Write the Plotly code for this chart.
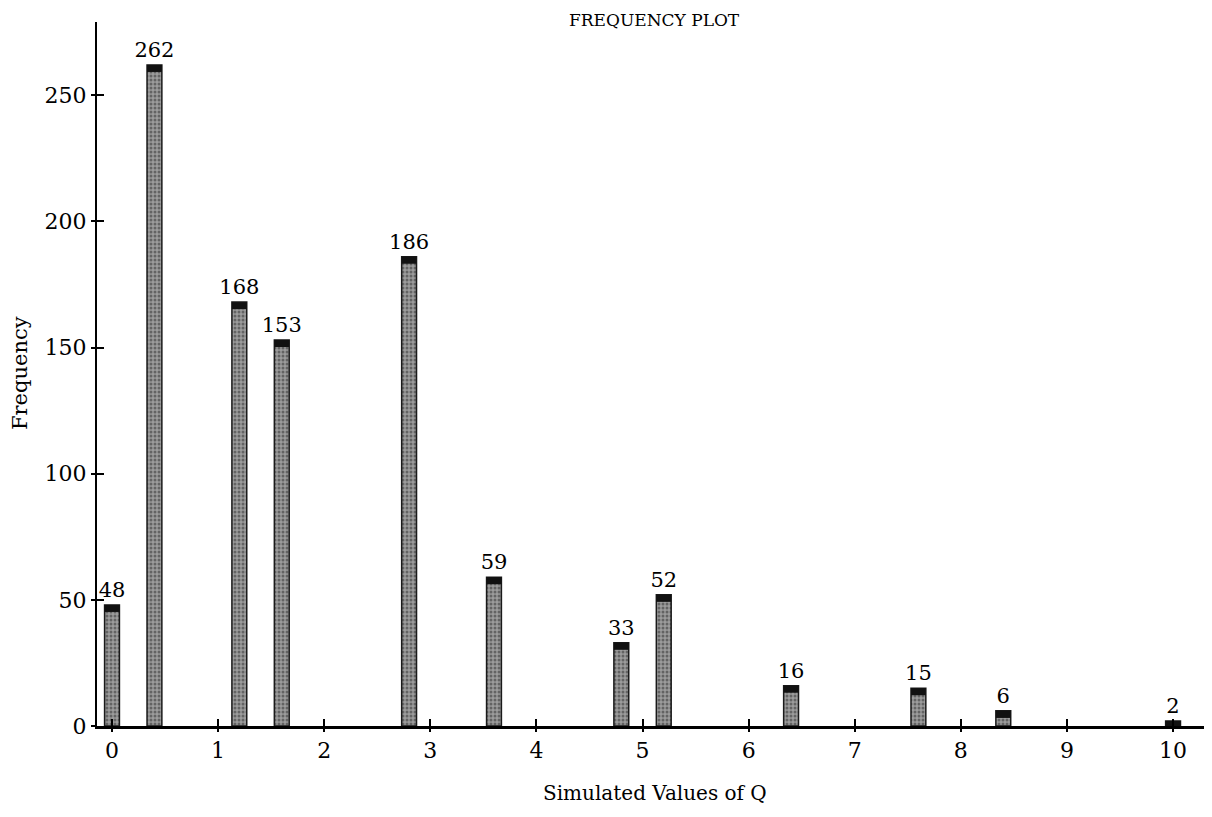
import plotly.graph_objects as go

q_values = [0, 0.4, 1.2, 1.6, 2.8, 3.6, 4.8, 5.2, 6.4, 7.6, 8.4, 10]
frequencies = [48, 262, 168, 153, 186, 59, 33, 52, 16, 15, 6, 2]
x_ticks = [0, 1, 2, 3, 4, 5, 6, 7, 8, 9, 10]
y_ticks = [0, 50, 100, 150, 200, 250]

cap_h = 2.8
cap_base = [max(v - cap_h, 0) for v in frequencies]
cap_len = [v - b for v, b in zip(frequencies, cap_base)]

font_family = "DejaVu Serif, Liberation Serif, serif"

W, H = 1204, 809   # page body has an 8px margin
L, T, B = 89, 14, 91

fig = go.Figure()
fig.add_trace(go.Bar(
    x=q_values, y=frequencies, width=0.14,
    marker=dict(color="#8a8a8a",
                line=dict(color="#1a1a1a", width=1.5),
                pattern=dict(shape=".", fgcolor="#2a2a2a", bgcolor="#9c9c9c",
                             size=4, solidity=0.45)),
    text=[str(v) for v in frequencies], textposition="outside",
    constraintext="none",
    textfont=dict(family=font_family, size=21, color="black"),
    cliponaxis=False, showlegend=False,
))
fig.add_trace(go.Bar(
    x=q_values, y=cap_len, base=cap_base, width=0.14,
    marker=dict(color="#111111", line=dict(width=0)),
    showlegend=False, hoverinfo="skip",
))

fig.update_layout(
    width=W, height=H,
    margin=dict(l=L, r=0, t=T, b=B, pad=0),
    paper_bgcolor="white", plot_bgcolor="white",
    barmode="overlay",
    font=dict(family=font_family, color="black"),
    xaxis=dict(range=[-0.1414, 10.367], tickvals=x_ticks,
               ticktext=[str(t) for t in x_ticks],
               showgrid=False, zeroline=False,
               showline=True, linecolor="black", linewidth=2.5,
               ticks="outside", ticklen=3, tickwidth=1.5, tickcolor="black",
               tickfont=dict(family=font_family, size=22, color="black")),
    yaxis=dict(range=[0, 279], tickvals=y_ticks,
               ticktext=[str(t) for t in y_ticks],
               showgrid=False, zeroline=False,
               showline=True, linecolor="black", linewidth=2,
               ticks="outside", ticklen=4, tickwidth=1.5, tickcolor="black",
               tickfont=dict(family=font_family, size=22, color="black")),
    xaxis2=dict(range=[-0.1414, 10.367], tickvals=x_ticks, overlaying="x",
                showticklabels=False, showgrid=False, zeroline=False,
                ticks="inside", ticklen=7, tickwidth=1.5, tickcolor="black",
                side="bottom"),
    yaxis2=dict(range=[0, 279], tickvals=y_ticks, overlaying="y",
                showticklabels=False, showgrid=False, zeroline=False,
                ticks="inside", ticklen=7, tickwidth=1.5, tickcolor="black",
                side="left"),
    annotations=[
        dict(text="FREQUENCY PLOT", xref="paper", yref="paper",
             x=0.5, y=1 + (T - 12) / 704,
             xanchor="center", yanchor="middle", showarrow=False,
             font=dict(family=font_family, size=17, color="black")),
        dict(text="Simulated Values of Q", xref="paper", yref="paper",
             x=(655 - 97) / 1115, y=-(793 - 726) / 704,
             xanchor="center", yanchor="middle", showarrow=False,
             font=dict(family=font_family, size=20, color="black")),
        dict(text="Frequency", xref="paper", yref="paper",
             x=(20 - 97) / 1115, y=(726 - 373) / 704, textangle=-90,
             xanchor="center", yanchor="middle", showarrow=False,
             font=dict(family=font_family, size=21, color="black")),
    ],
)
# invisible trace to activate overlay axes for crossing tick marks
fig.add_trace(go.Scatter(x=[q_values[0]], y=[frequencies[0]], xaxis="x2", yaxis="y2",
                         mode="markers", marker=dict(opacity=0), showlegend=False,
                         hoverinfo="skip"))

fig.write_html("out.html")
